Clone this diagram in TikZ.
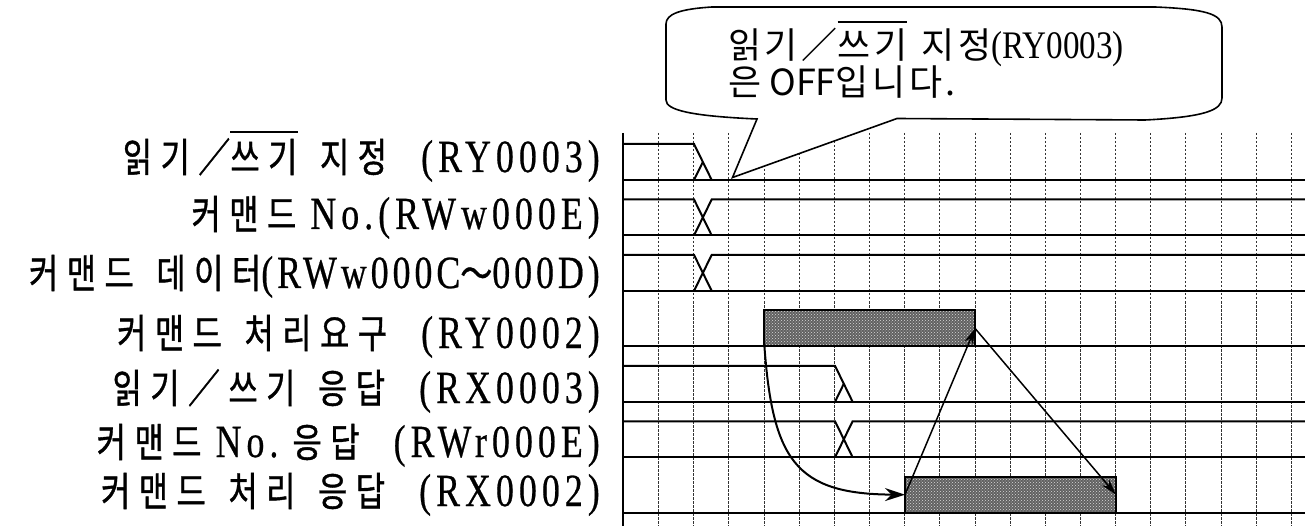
\documentclass[tikz,border=0pt]{standalone}
\usepackage{fontspec}
\usepackage{graphicx}
\setmainfont{Liberation Serif}
\newfontfamily\kor{Noto Sans CJK KR}
\newfontfamily\korc[LetterSpace=10]{Noto Sans CJK KR}
\newfontfamily\korl[LetterSpace=26,FakeBold=1]{Noto Sans CJK KR}
\newfontfamily\latl[LetterSpace=14,FakeBold=0.6]{Liberation Serif}
\newfontfamily\latn[LetterSpace=11,FakeBold=0.6]{Liberation Serif}
\usetikzlibrary{arrows.meta,patterns}
\newcommand\ovl[1]{\setbox0=\hbox{#1}\rlap{\rule[\dimexpr\ht0+6pt\relax]{\wd0}{2pt}}\box0\relax}
\newcommand\KL[1]{\scalebox{0.8}[1]{\fontsize{40}{40}\selectfont\korl #1}}
\newcommand\LL[1]{\scalebox{0.78}[1]{\fontsize{46}{46}\selectfont\latl #1}}
\newcommand\LN[1]{\scalebox{0.78}[1]{\fontsize{46}{46}\selectfont\latn #1}}
\newcommand\ks{\hspace{28pt}}
\tikzset{
  sig/.style={line width=2pt, line join=miter},
  gridln/.style={line width=1pt, black!80, dash pattern=on 2.5pt off 1.5pt},
  sigbox/.style={draw, line width=2pt, inner sep=0pt, outer sep=0pt, minimum width=211pt, minimum height=36pt,
     preaction={fill=black!62}, pattern=crosshatch dots, pattern color=white!85!black},
  lab/.style={anchor=base east, inner sep=0pt},
  ctext/.style={anchor=base west, inner sep=0pt, font=\fontsize{36}{36}\selectfont},
  callout/.style={draw, fill=white, line width=1.6pt, line join=miter},
  arrA/.style={line width=2pt, -{Stealth[length=20pt,width=13pt]}},
  arrB/.style={line width=1.5pt, -{Stealth[length=16pt,width=9pt]}},
}
\begin{document}
\begin{tikzpicture}[x=1pt,y=-1pt]
\useasboundingbox (0,0) rectangle (1305,526);
% grid
\foreach \k in {1,...,19} \draw[gridln] ({623.5+35.15*\k},133) -- ({623.5+35.15*\k},526);
% callout
\draw[callout] (757,119) -- (732.5,177.5) -- (897,118.5) -- (1145,120)
  .. controls (1205,117) and (1222,110) .. (1222,98) -- (1222,27)
  .. controls (1222,14) and (1205,9) .. (1155,7) -- (712,7)
  .. controls (680,9) and (666,14) .. (666,24) -- (666,100)
  .. controls (666,110) and (690,116) .. (757,119) -- cycle;
\node[ctext] (ct1) at (728,59) {\korc 읽기／\ovl{쓰기}\hspace{14pt}지정\scalebox{0.85}[1]{\fontsize{39}{39}\selectfont\rmfamily (RY0003)}};
\node[ctext] (ct2) at (728,96) {\korc 은\hspace{8pt}{\kor OFF}입니다.};
% axis
\draw[sig] (623,133) -- (623,526);
% row 0
\draw[sig] (623,144) -- (694,144) -- (711.7,180);
\draw[sig] (694,180) -- (702.85,162);
\draw[sig] (623,180) -- (1305,180);
% row 1
\draw[sig] (623,199.45) -- (694,199.45) -- (711.7,235.45);
\draw[sig] (694,235.45) -- (711.7,199.45) -- (1305,199.45);
\draw[sig] (623,235.45) -- (1305,235.45);
% row 2
\draw[sig] (623,254.9) -- (694,254.9) -- (711.7,290.9);
\draw[sig] (694,290.9) -- (711.7,254.9) -- (1305,254.9);
\draw[sig] (623,290.9) -- (1305,290.9);
% row 3
\draw[sig] (623,346.35) -- (1305,346.35);
\node[sigbox, anchor=north west] (b4) at (764,310.35) {};
% row 4
\draw[sig] (623,365.8) -- (835,365.8) -- (852.6,401.8);
\draw[sig] (835,401.8) -- (843.8,383.8);
\draw[sig] (623,401.8) -- (1305,401.8);
% row 5
\draw[sig] (623,421.25) -- (835,421.25) -- (852.6,457.25);
\draw[sig] (835,457.25) -- (852.6,421.25) -- (1305,421.25);
\draw[sig] (623,457.25) -- (1305,457.25);
% row 6
\draw[sig] (623,512.7) -- (1305,512.7);
\node[sigbox, anchor=north west] (b7) at (905,476.7) {};
% arrows
\draw[arrA] ([yshift=6pt]b4.south west) .. controls (772,460) and (795,494) .. (b7.west);
\draw[arrB] (b7.west) -- (b4.east);
\draw[arrB] (b4.east) -- (b7.east);
% labels
\node[lab] (l1) at (600,172) {\KL{읽기／\ovl{쓰기}\ks 지정}\hspace{34pt}\LL{(RY0003)}};
\node[lab] (l2) at (600,229) {\KL{커맨드}\hspace{14pt}\LL{No.(RWw000E)}};
\node[lab] (l3) at (600,288) {\KL{커맨드\ks 데이터}\LN{(RWw000C}\KL{～}\LN{000D)}};
\node[lab] (l4) at (600,348) {\KL{커맨드\ks 처리요구}\hspace{34pt}\LL{(RY0002)}};
\node[lab] (l5) at (600,403) {\KL{읽기／쓰기\ks 응답}\hspace{34pt}\LL{(RX0003)}};
\node[lab] (l6) at (600,457) {\KL{커맨드}\hspace{14pt}\LL{No.}\hspace{14pt}\KL{응답}\hspace{34pt}\LL{(RWr000E)}};
\node[lab] (l7) at (600,506) {\KL{커맨드\ks 처리\ks 응답}\hspace{34pt}\LL{(RX0002)}};
\end{tikzpicture}
\end{document}
